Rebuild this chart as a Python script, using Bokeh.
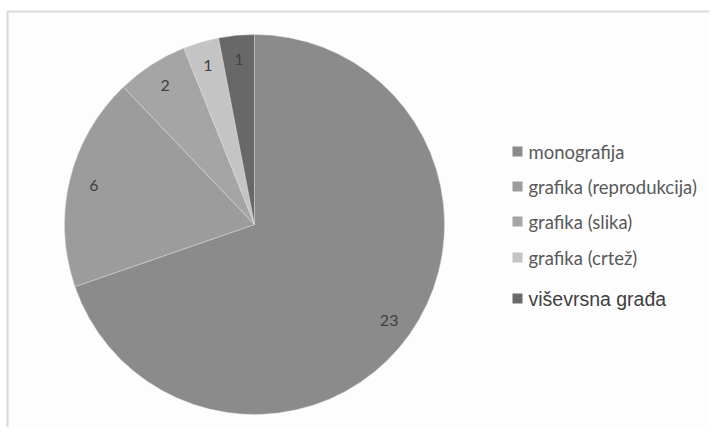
import numpy as np
from bokeh.plotting import figure
from bokeh.models import Range1d, ColumnDataSource
from bokeh.core.properties import value
from bokeh.embed import file_html
from bokeh.resources import INLINE

categories = ["monografija", "grafika (reprodukcija)", "grafika (slika)", "grafika (crtež)", "viševrsna građa"]
counts = [23, 6, 2, 1, 1]
colors = ["#8b8b8b", "#9c9c9c", "#a5a5a5", "#c4c4c4", "#686868"]

W, H = 709, 427
p = figure(width=W, height=H, output_backend="svg", toolbar_location=None,
           x_range=Range1d(0, W), y_range=Range1d(0, H), min_border=0)
p.axis.visible = False
p.grid.visible = False
p.outline_line_color = None
p.background_fill_color = "white"
p.border_fill_color = "white"

# chart area background and border (cropped on right/bottom)
p.quad(left=[7], right=[W], bottom=[0], top=[416], fill_color="#fdfdfd", line_color=None)
p.line(x=[7, 7, W], y=[0, 416, 416], line_color="#d9d9d9", line_width=2)

cx, cy, R = 254, 203, 190
vals = np.array(counts, dtype=float)
frac = vals / vals.sum()
ends = np.cumsum(frac) * 2 * np.pi
starts = ends - frac * 2 * np.pi
start_ang = np.pi / 2 - starts
end_ang = np.pi / 2 - ends
mid = (start_ang + end_ang) / 2

src = ColumnDataSource(dict(start=start_ang, end=end_ang, color=colors,
                            lx=cx + 0.87 * R * np.cos(mid), ly=cy + 0.87 * R * np.sin(mid),
                            lab=[str(c) for c in counts]))
p.wedge(x=cx, y=cy, radius=R, start_angle="start", end_angle="end", direction="clock",
        fill_color="color", line_color="#dddddd", line_alpha=0.45, line_width=1, source=src)
p.text(x="lx", y="ly", text="lab", source=src, text_align="center", text_baseline="middle",
       text_color="#404040", text_font=value("Lato"), text_font_size=value("16px"))

# legend
leg_y = [276, 241, 206, 170, 129]
p.rect(x=[517] * 5, y=leg_y, width=10, height=10, fill_color=colors, line_color=None)
p.text(x=[528] * 4, y=leg_y[:4], text=categories[:4], text_baseline="middle",
       text_color="#595959", text_font=value("Lato"), text_font_size=value("18.5px"))
p.text(x=[528], y=leg_y[4:], text=categories[4:], text_baseline="middle",
       text_color="#404040", text_font=value("Liberation Sans"), text_font_size=value("19.5px"))

open("out.html", "w").write(file_html(p, INLINE))
